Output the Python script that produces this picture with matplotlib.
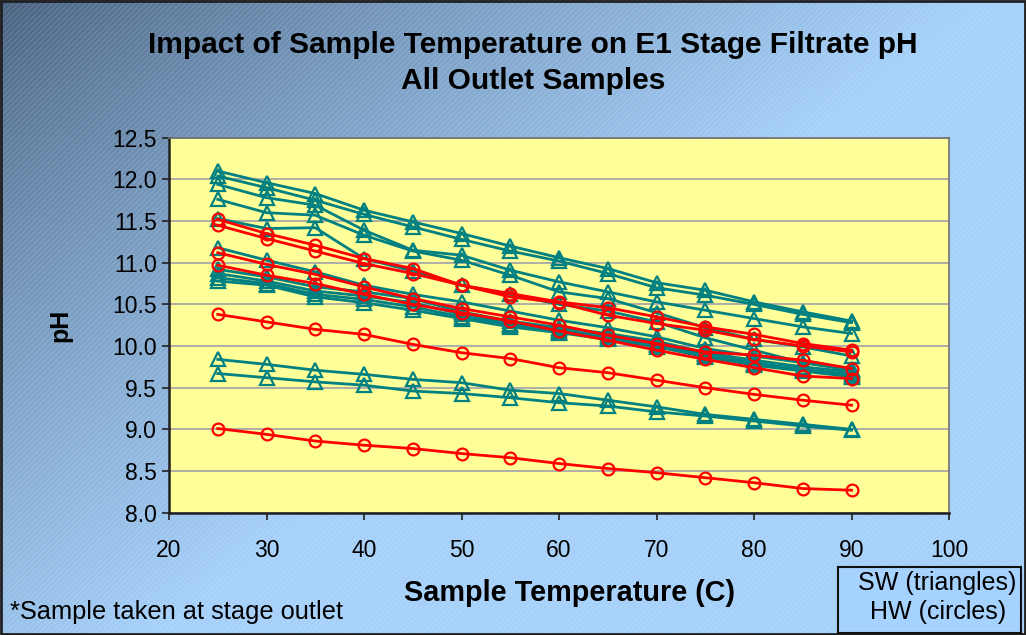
import numpy as np
import matplotlib
matplotlib.use("Agg")
import matplotlib.pyplot as plt
from matplotlib.patches import Rectangle

plt.rcParams['font.family'] = ['Liberation Sans', 'DejaVu Sans']
plt.rcParams['hatch.linewidth'] = 0.6

# Sample temperatures (C)
temps = [25, 30, 35, 40, 45, 50, 55, 60, 65, 70, 75, 80, 85, 90]

# SW filtrate pH readings (plotted with triangles)
sw_1 = [12.10, 11.96, 11.83, 11.63, 11.49, 11.35, 11.20, 11.06, 10.93, 10.76, 10.67, 10.53, 10.41, 10.30]
sw_2 = [12.04, 11.90, 11.75, 11.58, 11.43, 11.28, 11.14, 11.02, 10.87, 10.70, 10.61, 10.50, 10.38, 10.28]
sw_3 = [11.94, 11.78, 11.69, 11.39, 11.15, 11.09, 10.91, 10.77, 10.65, 10.53, 10.43, 10.33, 10.23, 10.15]
sw_4 = [11.76, 11.60, 11.57, 11.33, 11.14, 11.03, 10.85, 10.65, 10.57, 10.40, 10.22, 10.08, 9.99, 9.88]
sw_5 = [11.53, 11.41, 11.42, 11.05, 10.90, 10.73, 10.62, 10.50, 10.42, 10.29, 10.10, 9.95, 9.80, 9.73]
sw_6 = [11.18, 11.03, 10.89, 10.73, 10.62, 10.53, 10.42, 10.31, 10.22, 10.11, 9.97, 9.88, 9.80, 9.71]
sw_7 = [10.92, 10.83, 10.71, 10.65, 10.57, 10.41, 10.30, 10.22, 10.15, 10.06, 9.92, 9.83, 9.75, 9.69]
sw_8 = [10.87, 10.78, 10.66, 10.60, 10.52, 10.38, 10.27, 10.19, 10.12, 10.03, 9.90, 9.80, 9.72, 9.66]
sw_9 = [10.82, 10.75, 10.62, 10.56, 10.47, 10.35, 10.25, 10.17, 10.10, 10.01, 9.88, 9.78, 9.71, 9.64]
sw_10 = [10.78, 10.73, 10.59, 10.52, 10.43, 10.33, 10.23, 10.16, 10.08, 9.99, 9.87, 9.77, 9.70, 9.63]
sw_11 = [9.84, 9.78, 9.71, 9.66, 9.60, 9.56, 9.47, 9.43, 9.35, 9.27, 9.18, 9.12, 9.06, 9.00]
sw_12 = [9.67, 9.62, 9.57, 9.53, 9.46, 9.43, 9.38, 9.32, 9.28, 9.21, 9.16, 9.10, 9.04, 8.99]

# HW filtrate pH readings (plotted with circles)
hw_1 = [11.52, 11.35, 11.21, 11.05, 10.93, 10.73, 10.63, 10.53, 10.46, 10.35, 10.23, 10.14, 10.03, 9.95]
hw_2 = [11.45, 11.29, 11.14, 10.99, 10.87, 10.73, 10.59, 10.52, 10.37, 10.27, 10.19, 10.08, 10.00, 9.93]
hw_3 = [11.12, 10.98, 10.86, 10.71, 10.57, 10.45, 10.35, 10.25, 10.13, 10.03, 9.93, 9.89, 9.83, 9.73]
hw_4 = [10.97, 10.85, 10.75, 10.62, 10.50, 10.40, 10.30, 10.18, 10.07, 9.95, 9.84, 9.74, 9.64, 9.61]
hw_5 = [10.38, 10.29, 10.20, 10.14, 10.02, 9.92, 9.85, 9.74, 9.68, 9.59, 9.50, 9.42, 9.35, 9.29]
hw_6 = [9.01, 8.94, 8.86, 8.81, 8.77, 8.71, 8.66, 8.59, 8.53, 8.48, 8.42, 8.36, 8.29, 8.27]

sw_series = [sw_1, sw_2, sw_3, sw_4, sw_5, sw_6, sw_7, sw_8, sw_9, sw_10, sw_11, sw_12]
hw_series = [hw_1, hw_2, hw_3, hw_4, hw_5, hw_6]

x_ticks = [20, 30, 40, 50, 60, 70, 80, 90, 100]
y_ticks = [8.0, 8.5, 9.0, 9.5, 10.0, 10.5, 11.0, 11.5, 12.0, 12.5]

W, H = 1026, 635
fig = plt.figure(figsize=(W / 100, H / 100), dpi=100)

# Blue gradient backdrop with fine diagonal texture
bg = fig.add_axes([0, 0, 1, 1], zorder=0)
u = np.linspace(0, 1, 400)[None, :]
v = np.linspace(0, 1, 250)[:, None]
t = np.clip(1.05 * u + 0.85 * v, 0, 1) ** 0.8
dark = np.array([70, 95, 125]) / 255
light = np.array([165, 208, 250]) / 255
grad = dark[None, None, :] * (1 - t[..., None]) + light[None, None, :] * t[..., None]
bg.imshow(grad, extent=[0, 1, 0, 1], origin='upper', aspect='auto', interpolation='bilinear')
bg.add_patch(Rectangle((0, 0), 1, 1, transform=bg.transAxes, facecolor='none',
                       edgecolor=(1, 1, 1, 0.18), hatch='//////', lw=0))
bg.add_patch(Rectangle((0.001, 0.002), 0.998, 0.996, transform=bg.transAxes,
                       facecolor='none', edgecolor='#202020', lw=2))
bg.set_xlim(0, 1)
bg.set_ylim(0, 1)
bg.axis('off')

# Plot area
ax = fig.add_axes([169 / W, 122.3 / H, (949 - 169) / W, (512.7 - 137.7) / H], zorder=2)
ax.set_facecolor('#FFFF99')
ax.set_xlim(20, 100)
ax.set_ylim(8.0, 12.5)
ax.set_xticks(x_ticks)
ax.set_yticks(y_ticks)
ax.set_xticklabels([str(v) for v in x_ticks])
ax.set_yticklabels([f"{v:.1f}" for v in y_ticks])
ax.yaxis.grid(True, color='#a8a8a8', lw=1.3)
ax.set_axisbelow(True)
ax.tick_params(axis='both', direction='out', length=5, width=1.2, color='#202020',
               labelsize=16.5, labelcolor='black')
ax.tick_params(axis='x', pad=14)
for side in ('left', 'bottom'):
    ax.spines[side].set_color('#202020')
    ax.spines[side].set_linewidth(1.8)
for side in ('top', 'right'):
    ax.spines[side].set_color('#707070')
    ax.spines[side].set_linewidth(1.2)

for ys in sw_series:
    ax.plot(temps, ys, color='#008080', lw=2.0, marker='^', markersize=9.5,
            markerfacecolor='none', markeredgecolor='#008080', markeredgewidth=1.6)
for ys in hw_series:
    ax.plot(temps, ys, color='#FF0000', lw=2.0, marker='o', markersize=8.5,
            markerfacecolor='none', markeredgecolor='#FF0000', markeredgewidth=1.6)

ax.set_ylabel('pH', fontsize=18, fontweight='bold', labelpad=29)
fig.text(570 / W, 1 - 593 / H, 'Sample Temperature (C)', fontsize=20.8, fontweight='bold',
         ha='center', va='center')

fig.text(533 / W, 1 - 45 / H, 'Impact of Sample Temperature on E1 Stage Filtrate pH',
         fontsize=21.5, fontweight='bold', ha='center', va='center')
fig.text(533 / W, 1 - 81 / H, 'All Outlet Samples',
         fontsize=21.5, fontweight='bold', ha='center', va='center')

fig.text(10 / W, 1 - 612 / H, '*Sample taken at stage outlet', fontsize=18.3,
         ha='left', va='center')

# Series key box
fig.patches.append(Rectangle((838 / W, 2 / H), 183 / W, 66 / H, transform=fig.transFigure,
                             facecolor='#A6D2FF', edgecolor='#101010', lw=1.5, zorder=3))
fig.text(937 / W, 1 - 583 / H, 'SW (triangles)', fontsize=18, ha='center', va='center', zorder=4)
fig.text(938 / W, 1 - 612 / H, 'HW (circles)', fontsize=18, ha='center', va='center', zorder=4)

fig.savefig('out.png', dpi=100)
